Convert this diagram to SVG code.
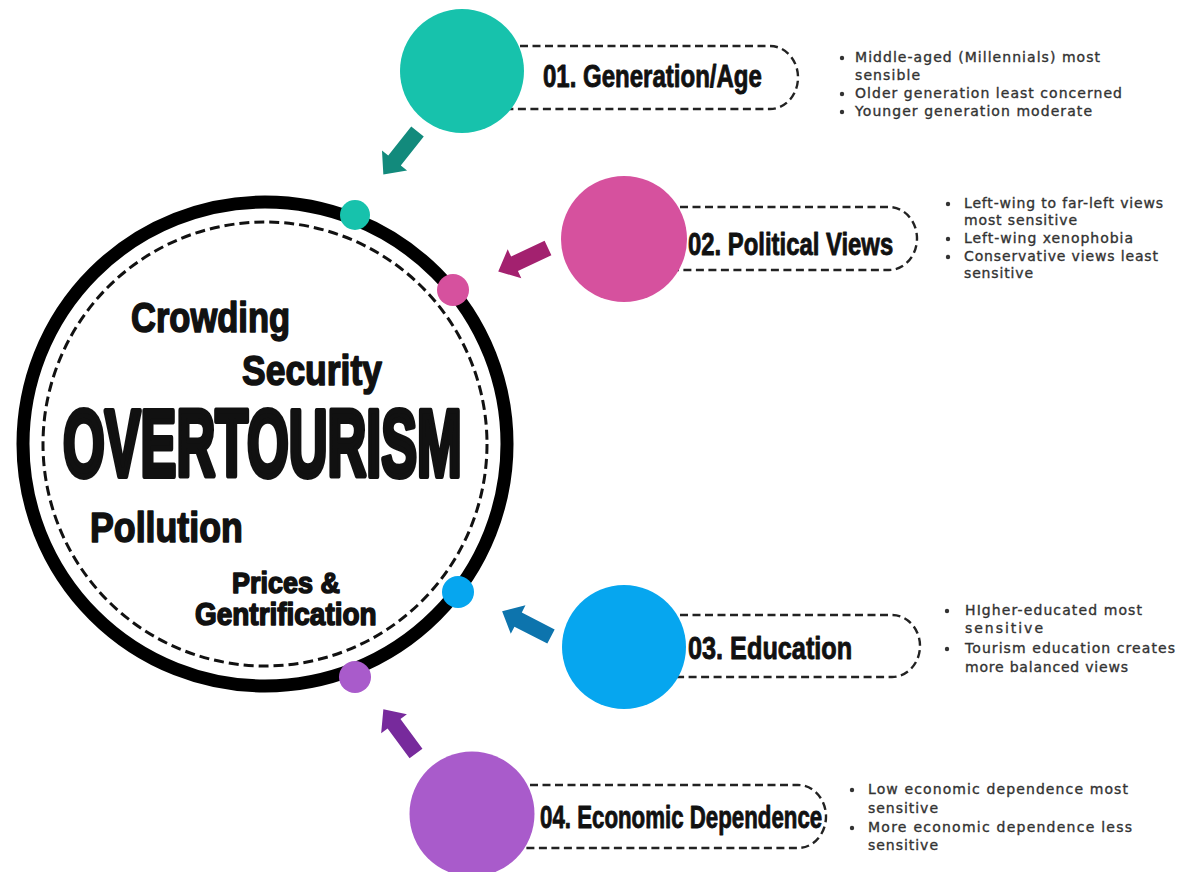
<svg xmlns="http://www.w3.org/2000/svg" xmlns:xlink="http://www.w3.org/1999/xlink" width="1182" height="872" viewBox="0 0 1182 872">
  <style>
    .cond { font-family: "Liberation Sans Narrow", "Liberation Sans", Arial, sans-serif; font-weight: bold; fill: #111; }
    .hubword { stroke: #111; stroke-width: 1.6; stroke-linejoin: round; }
    .label { font-size: 32px; stroke: #111; stroke-width: 0.9; stroke-linejoin: round; }
    .note { font-family: "DejaVu Sans", "Liberation Sans", sans-serif; font-size: 14px; fill: #333; stroke: #333; stroke-width: 0.35; }
    .pill { fill: none; stroke: #222; stroke-width: 2.4; stroke-dasharray: 8 4.5; }
    .bullet { fill: #333; }
  </style>
  <defs>
    <!-- block arrow pointing along +x, tail at origin -->
    <path id="arrow" d="M0,-8 H37 V-16 L55,0 L37,16 V8 H0 Z"/>
  </defs>

  <rect x="0" y="0" width="1182" height="872" fill="#ffffff"/>

  <!-- central hub -->
  <g id="hub">
    <circle cx="265" cy="444" r="242" fill="none" stroke="#000" stroke-width="13"/>
    <circle cx="265" cy="444" r="222" fill="none" stroke="#111" stroke-width="3" stroke-dasharray="10 5"/>
    <text class="cond hubword" transform="translate(131,332) scale(0.82,1)" font-size="42" textLength="194" lengthAdjust="spacingAndGlyphs">Crowding</text>
    <text class="cond hubword" transform="translate(242,385) scale(0.8,1)" font-size="43" textLength="175" lengthAdjust="spacingAndGlyphs">Security</text>
    <text class="cond" transform="translate(63,476) scale(0.55,1)" font-size="95" stroke="#111" stroke-width="6" stroke-linejoin="round" textLength="725" lengthAdjust="spacingAndGlyphs">OVERTOURISM</text>
    <text class="cond hubword" transform="translate(90,542) scale(0.8,1)" font-size="42" textLength="191" lengthAdjust="spacingAndGlyphs">Pollution</text>
    <text class="cond hubword" transform="translate(232,593) scale(0.8,1)" font-size="30" textLength="135" lengthAdjust="spacingAndGlyphs">Prices &amp;</text>
    <text class="cond hubword" transform="translate(195,625) scale(0.8,1)" font-size="31" textLength="227" lengthAdjust="spacingAndGlyphs">Gentrification</text>
    <!-- attachment dots on the ring -->
    <circle cx="355" cy="215" r="15" fill="#17c2ac"/>
    <circle cx="453" cy="290" r="16" fill="#d6519e"/>
    <circle cx="458" cy="592" r="16" fill="#06a6ef"/>
    <circle cx="355" cy="677" r="16" fill="#a95bcb"/>
  </g>

  <!-- arrows toward the hub -->
  <g id="connectors">
    <use xlink:href="#arrow" href="#arrow" fill="#128a7c" transform="translate(417.5,131.5) rotate(128.4)"/>
    <use xlink:href="#arrow" href="#arrow" fill="#a3216f" transform="translate(548,248) rotate(154.8)"/>
    <use xlink:href="#arrow" href="#arrow" fill="#0d74ad" transform="translate(551,636.5) rotate(-152.7)"/>
    <use xlink:href="#arrow" href="#arrow" fill="#772a9c" transform="translate(416,753.5) rotate(-126.4)"/>
  </g>

  <!-- 01 -->
  <g id="factor-generation">
    <path class="pill" d="M470,46 H770 A28,31.5 0 0 1 770,109 H470"/>
    <circle cx="462" cy="71" r="62" fill="#17c2ac"/>
    <text class="cond label" transform="translate(543,87) scale(0.72,1)" textLength="304" lengthAdjust="spacingAndGlyphs">01. Generation/Age</text>
    <circle class="bullet" cx="842" cy="58" r="2.2"/>
    <circle class="bullet" cx="842" cy="94" r="2.2"/>
    <circle class="bullet" cx="842" cy="112" r="2.2"/>
    <text class="note" x="855" y="62" textLength="245">Middle-aged (Millennials) most</text>
    <text class="note" x="855" y="80" textLength="65">sensible</text>
    <text class="note" x="855" y="98" textLength="267">Older generation least concerned</text>
    <text class="note" x="855" y="116" textLength="237">Younger generation moderate</text>
  </g>

  <!-- 02 -->
  <g id="factor-politics">
    <path class="pill" d="M630,207 H889 A28,31.5 0 0 1 889,270 H630"/>
    <circle cx="624" cy="239" r="63" fill="#d6519e"/>
    <text class="cond label" transform="translate(688,255) scale(0.72,1)" textLength="285" lengthAdjust="spacingAndGlyphs">02. Political Views</text>
    <circle class="bullet" cx="948" cy="204" r="2.2"/>
    <circle class="bullet" cx="948" cy="239" r="2.2"/>
    <circle class="bullet" cx="948" cy="257" r="2.2"/>
    <text class="note" x="964" y="208" textLength="199">Left-wing to far-left views</text>
    <text class="note" x="964" y="225" textLength="113">most sensitive</text>
    <text class="note" x="964" y="243" textLength="169">Left-wing xenophobia</text>
    <text class="note" x="964" y="261" textLength="194">Conservative views least</text>
    <text class="note" x="964" y="278" textLength="69">sensitive</text>
  </g>

  <!-- 03 -->
  <g id="factor-education">
    <path class="pill" d="M630,615 H892 A28,31 0 0 1 892,677 H630"/>
    <circle cx="624" cy="647" r="62" fill="#06a6ef"/>
    <text class="cond label" transform="translate(688,659) scale(0.72,1)" textLength="228" lengthAdjust="spacingAndGlyphs">03. Education</text>
    <circle class="bullet" cx="947" cy="611" r="2.2"/>
    <circle class="bullet" cx="947" cy="649" r="2.2"/>
    <text class="note" x="965" y="615" textLength="177">HIgher-educated most</text>
    <text class="note" x="965" y="633" textLength="78">sensitive</text>
    <text class="note" x="965" y="653" textLength="210">Tourism education creates</text>
    <text class="note" x="965" y="672" textLength="163">more balanced views</text>
  </g>

  <!-- 04 -->
  <g id="factor-economy">
    <path class="pill" d="M480,785 H798 A28,31.5 0 0 1 798,848 H480"/>
    <circle cx="472" cy="814" r="62.5" fill="#a95bcb"/>
    <text class="cond label" transform="translate(540,828) scale(0.72,1)" textLength="392" lengthAdjust="spacingAndGlyphs">04. Economic Dependence</text>
    <circle class="bullet" cx="852" cy="790" r="2.2"/>
    <circle class="bullet" cx="852" cy="828" r="2.2"/>
    <text class="note" x="868" y="794" textLength="260">Low economic dependence most</text>
    <text class="note" x="868" y="813" textLength="70">sensitive</text>
    <text class="note" x="868" y="832" textLength="264">More economic dependence less</text>
    <text class="note" x="868" y="850" textLength="70">sensitive</text>
  </g>
</svg>
